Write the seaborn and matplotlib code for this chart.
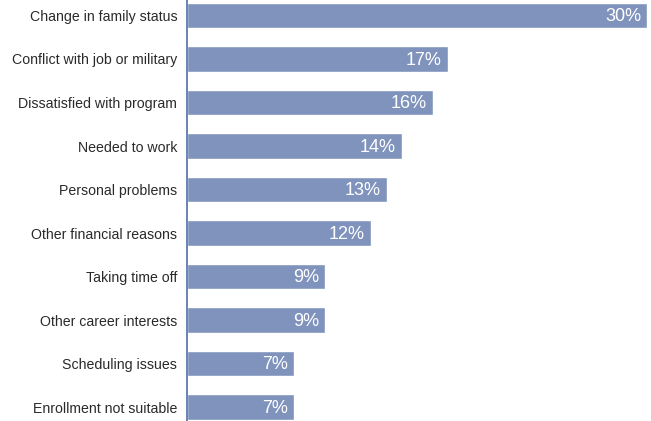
import matplotlib
matplotlib.use("Agg")
import matplotlib.pyplot as plt
import seaborn as sns
import pandas as pd

categories = ["Change in family status", "Conflict with job or military",
              "Dissatisfied with program", "Needed to work", "Personal problems",
              "Other financial reasons", "Taking time off", "Other career interests",
              "Scheduling issues", "Enrollment not suitable"]
values = [30, 17, 16, 14, 13, 12, 9, 9, 7, 7]
value_labels = ["30%", "17%", "16%", "14%", "13%", "12%", "9%", "9%", "7%", "7%"]

df = pd.DataFrame({"reason": categories, "pct": values})

sns.set_style("white")
plt.rcParams['font.family'] = ['Liberation Sans', 'DejaVu Sans']

fig = plt.figure(figsize=(6.51, 4.21), dpi=100)
ax = fig.add_axes([187/651, 0, (649-187)/651, 1])
sns.barplot(data=df, x="pct", y="reason", orient="h", color="#7f93bd",
            saturation=1, width=0.59, ax=ax)

ax.set_xlim(0, 30.1)
ax.set_ylim(9.32, -0.356)
for i, (v, lab) in enumerate(zip(values, value_labels)):
    ax.text(v - 0.4, i + 0.03, lab, ha="right", va="center", color="white",
            fontsize=13)

ax.set_xlabel("")
ax.set_ylabel("")
ax.set_xticks([])
ax.tick_params(axis="y", length=0, pad=7, labelsize=10.2, labelcolor="#2a2a2a")
for s in ["top", "right", "bottom"]:
    ax.spines[s].set_visible(False)
ax.spines["left"].set_color("#4f6fa8")
ax.spines["left"].set_linewidth(1.2)

fig.savefig("out.png", dpi=100)
